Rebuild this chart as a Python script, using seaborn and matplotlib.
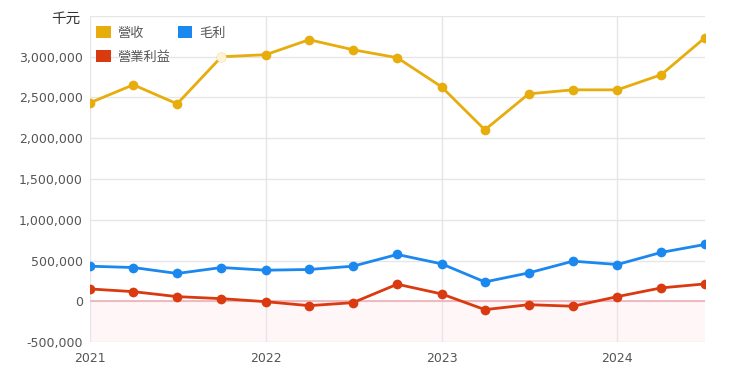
import pandas as pd
import matplotlib
matplotlib.use('Agg')
import matplotlib.pyplot as plt
import matplotlib.dates as mdates
from matplotlib.patches import Patch
from matplotlib.ticker import FuncFormatter, MultipleLocator
import seaborn as sns

# 季度資料 (千元)
quarters = ['2021-01-01', '2021-04-01', '2021-07-01', '2021-10-01',
            '2022-01-01', '2022-04-01', '2022-07-01', '2022-10-01',
            '2023-01-01', '2023-04-01', '2023-07-01', '2023-10-01',
            '2024-01-01', '2024-04-01', '2024-07-01']
revenue = [2435000, 2656000, 2422000, 3000000, 3025000, 3209000, 3086000, 2988000,
           2631000, 2103000, 2545000, 2594000, 2594000, 2779000, 3234000]
gross_profit = [430000, 414000, 341000, 414000, 381000, 390000, 430000, 574000,
                459000, 237000, 348000, 492000, 451000, 599000, 697000]
operating_income = [151000, 118000, 57000, 32000, -5000, -54000, -17000, 209000,
                    90000, -103000, -42000, -61000, 57000, 164000, 213000]
series_names = ['營收', '毛利', '營業利益']
colors = ['#e6ad0c', '#1a88ee', '#d93a10']

df = pd.DataFrame({'date': pd.to_datetime(quarters),
                   series_names[0]: revenue,
                   series_names[1]: gross_profit,
                   series_names[2]: operating_income})
long_df = df.melt(id_vars='date', var_name='item', value_name='value')

sns.set_style('white')
plt.rcParams['font.family'] = ['DejaVu Sans', 'Noto Sans CJK TC']

fig = plt.figure(figsize=(7.4, 3.78), dpi=100)
ax = fig.add_axes([0.1216, 0.0952, 0.8311, 0.8625])

# 負值區域底色
ax.axhspan(-500000, 0, color='#fff6f7', zorder=0)
ax.axhline(0, color='#f0b4bc', lw=1.3, zorder=1)

sns.lineplot(data=long_df, x='date', y='value', hue='item', hue_order=series_names,
             palette=colors, marker='o', markersize=7, markeredgewidth=0,
             linewidth=2.0, legend=False, ax=ax, zorder=3)

# 2021Q4 營收點 (淡色)
ax.plot(df['date'][3], revenue[3], 'o', color='#fdf1d6', markersize=7,
        markeredgewidth=0, zorder=4)

ax.set_ylim(-500000, 3500000)
ax.set_xlim(df['date'].iloc[0], df['date'].iloc[-1])
ax.yaxis.set_major_locator(MultipleLocator(500000))
ax.yaxis.set_major_formatter(FuncFormatter(lambda v, p: '' if v > 3200000 else f'{int(v):,}'))
ax.xaxis.set_major_locator(mdates.YearLocator())
ax.xaxis.set_major_formatter(mdates.DateFormatter('%Y'))

ax.grid(True, color='#e6e6e6', lw=1)
ax.set_axisbelow(True)
for s in ax.spines.values():
    s.set_visible(False)
ax.tick_params(axis='both', length=0, labelsize=9, labelcolor='#555555')
ax.tick_params(axis='y', pad=5)
ax.tick_params(axis='x', pad=7)
ax.set_xlabel('')
ax.set_ylabel('')

ax.text(-0.016, 0.99, '千元', transform=ax.transAxes, ha='right', va='center',
        fontsize=10.5, color='#333333', family=['Noto Sans CJK TC', 'DejaVu Sans'])

# 依列排列: 營收, 毛利 / 營業利益
order = [0, 2, 1]
handles = [Patch(facecolor=colors[i], edgecolor='none', label=series_names[i]) for i in order]
leg = ax.legend(handles=handles, loc='upper left', bbox_to_anchor=(-0.009, 1.005), ncol=2,
                frameon=False, handlelength=1.1, handleheight=1.0, handletextpad=0.5,
                columnspacing=0.55, labelspacing=0.8,
                prop={'family': ['Noto Sans CJK TC', 'DejaVu Sans'], 'size': 9.5})
for t in leg.get_texts():
    t.set_color('#555555')

plt.savefig('out.png', dpi=100)
